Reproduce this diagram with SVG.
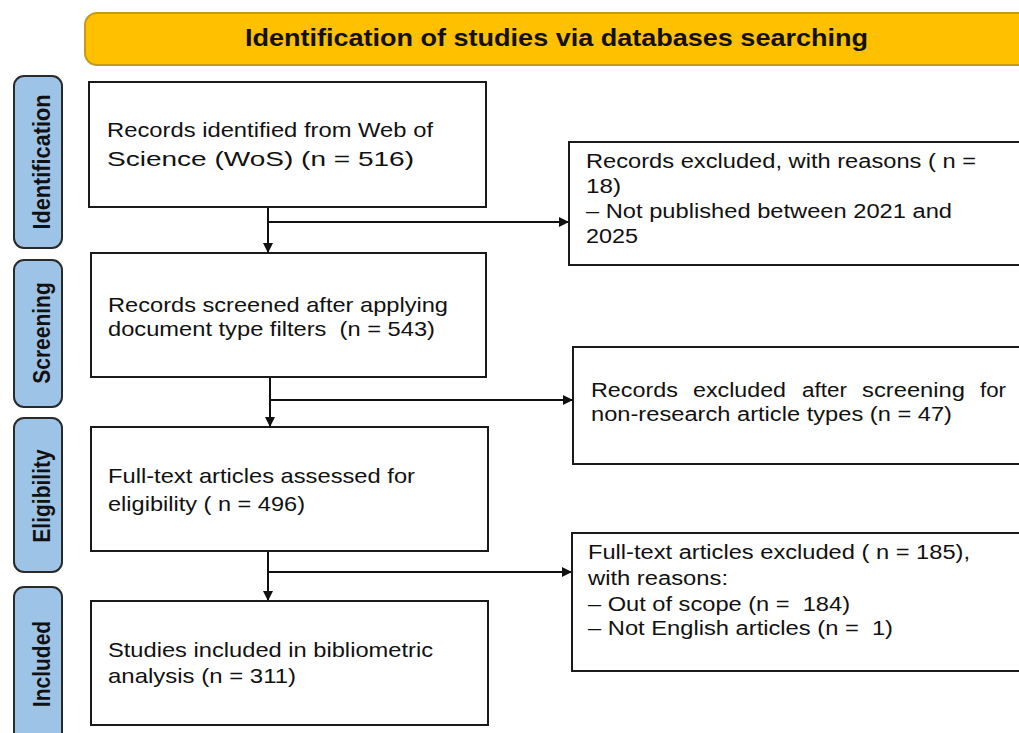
<svg xmlns="http://www.w3.org/2000/svg" width="1019" height="733" viewBox="0 0 1019 733">
<style>
.box{fill:#fff;stroke:#1a1a1a;stroke-width:2}
.side{fill:#9DC3E6;stroke:#2a2a2a;stroke-width:2}
.hdr{fill:#FFC000;stroke:#C49A1C;stroke-width:2}
.t{font-family:"Liberation Sans",Arial,sans-serif;fill:#111;white-space:pre}
.l{font-size:21px}
.r{font-size:20px}
.b{font-weight:bold;font-size:21px}
.h{font-weight:bold;font-size:24px}
.con{fill:none;stroke:#111;stroke-width:2}
</style>
<defs>
<marker id="ah" viewBox="0 0 10 10" refX="10" refY="5" markerWidth="10" markerHeight="10" markerUnits="userSpaceOnUse" orient="auto">
<path d="M0,0 L10,5 L0,10 Z" fill="#111"/>
</marker>
</defs>
<rect width="1019" height="733" fill="#fff"/>

<g id="header">
<rect class="hdr" x="85" y="13" width="960" height="52" rx="12"/>
<text class="t h" x="556.5" y="46" text-anchor="middle" textLength="623" lengthAdjust="spacingAndGlyphs">Identification of studies via databases searching</text>
</g>

<g id="stage-identification">
<rect class="side" x="14" y="76" width="48" height="172" rx="10"/>
<text class="t b" text-anchor="middle" transform="translate(50,162) scale(1.13,1) rotate(-90)" textLength="135" lengthAdjust="spacingAndGlyphs">Identification</text>
</g>
<g id="stage-screening">
<rect class="side" x="14" y="260" width="48" height="147" rx="10"/>
<text class="t b" text-anchor="middle" transform="translate(50,333) scale(1.13,1) rotate(-90)">Screening</text>
</g>
<g id="stage-eligibility">
<rect class="side" x="14" y="418" width="48" height="154" rx="10"/>
<text class="t b" text-anchor="middle" transform="translate(50,496) scale(1.13,1) rotate(-90)">Eligibility</text>
</g>
<g id="stage-included">
<rect class="side" x="14" y="587" width="48" height="160" rx="10"/>
<text class="t b" text-anchor="middle" transform="translate(50,664) scale(1.13,1) rotate(-90)">Included</text>
</g>

<g id="connectors">
<line class="con" x1="268" y1="207" x2="268" y2="253" marker-end="url(#ah)"/>
<line class="con" x1="268" y1="222" x2="569" y2="222" marker-end="url(#ah)"/>
<line class="con" x1="270" y1="377" x2="270" y2="427" marker-end="url(#ah)"/>
<line class="con" x1="270" y1="400" x2="573" y2="400" marker-end="url(#ah)"/>
<line class="con" x1="268" y1="551" x2="268" y2="601" marker-end="url(#ah)"/>
<line class="con" x1="268" y1="572" x2="572" y2="572" marker-end="url(#ah)"/>
</g>

<g id="records-identified">
<rect class="box" x="89" y="82" width="397" height="125"/>
<text class="t l" x="107" y="137" textLength="326" lengthAdjust="spacingAndGlyphs">Records identified from Web of</text>
<text class="t l" x="107" y="166" textLength="307" lengthAdjust="spacingAndGlyphs">Science (WoS) (n = 516)</text>
</g>

<g id="records-screened">
<rect class="box" x="91" y="253" width="395" height="124"/>
<text class="t l" x="108" y="312" textLength="340" lengthAdjust="spacingAndGlyphs">Records screened after applying</text>
<text class="t l" x="108" y="336" textLength="327" lengthAdjust="spacingAndGlyphs">document type filters  (n = 543)</text>
</g>

<g id="fulltext-assessed">
<rect class="box" x="91" y="427" width="397" height="124"/>
<text class="t l" x="108" y="483" textLength="307" lengthAdjust="spacingAndGlyphs">Full-text articles assessed for</text>
<text class="t l" x="108" y="511" textLength="197" lengthAdjust="spacingAndGlyphs">eligibility ( n = 496)</text>
</g>

<g id="studies-included">
<rect class="box" x="91" y="601" width="397" height="124"/>
<text class="t l" x="108" y="657" textLength="325" lengthAdjust="spacingAndGlyphs">Studies included in bibliometric</text>
<text class="t l" x="108" y="683" textLength="188" lengthAdjust="spacingAndGlyphs">analysis (n = 311)</text>
</g>

<g id="records-excluded">
<rect class="box" x="569" y="142" width="470" height="123"/>
<text class="t r" x="586" y="168" textLength="390" lengthAdjust="spacingAndGlyphs">Records excluded, with reasons ( n =</text>
<text class="t r" x="586" y="193" textLength="35" lengthAdjust="spacingAndGlyphs">18)</text>
<text class="t r" x="586" y="218" textLength="366" lengthAdjust="spacingAndGlyphs">– Not published between 2021 and</text>
<text class="t r" x="586" y="243" textLength="52" lengthAdjust="spacingAndGlyphs">2025</text>
</g>

<g id="records-excluded-screening">
<rect class="box" x="573" y="347" width="470" height="117"/>
<text class="t r" y="397"><tspan x="591" textLength="87" lengthAdjust="spacingAndGlyphs">Records</tspan><tspan x="693" textLength="93" lengthAdjust="spacingAndGlyphs">excluded</tspan><tspan x="802" textLength="45" lengthAdjust="spacingAndGlyphs">after</tspan><tspan x="862" textLength="103" lengthAdjust="spacingAndGlyphs">screening</tspan><tspan x="980" textLength="26" lengthAdjust="spacingAndGlyphs">for</tspan></text>
<text class="t r" x="591" y="421" textLength="361" lengthAdjust="spacingAndGlyphs">non-research article types (n = 47)</text>
</g>

<g id="fulltext-excluded">
<rect class="box" x="572" y="533" width="470" height="138"/>
<text class="t r" x="588" y="559" textLength="382" lengthAdjust="spacingAndGlyphs">Full-text articles excluded ( n = 185),</text>
<text class="t r" x="588" y="585" textLength="140" lengthAdjust="spacingAndGlyphs">with reasons:</text>
<text class="t r" x="588" y="611" textLength="262" lengthAdjust="spacingAndGlyphs">– Out of scope (n =  184)</text>
<text class="t r" x="588" y="635" textLength="305" lengthAdjust="spacingAndGlyphs">– Not English articles (n =  1)</text>
</g>
</svg>
